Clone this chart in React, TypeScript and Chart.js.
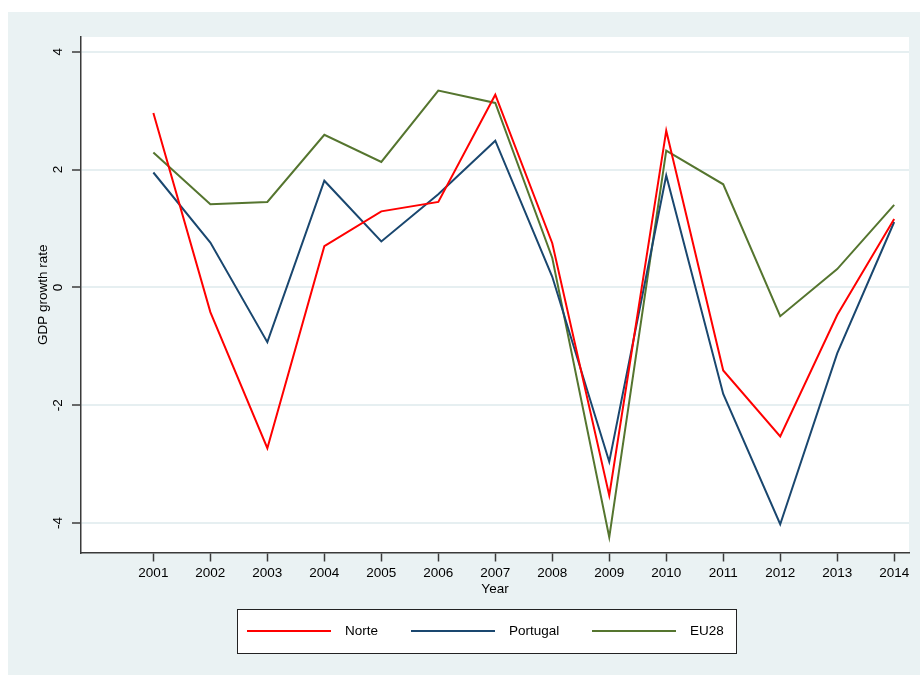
import React, { useEffect, useRef } from "react";
import { Chart, registerables } from "chart.js";
Chart.register(...registerables);

const years = [2001, 2002, 2003, 2004, 2005, 2006, 2007, 2008, 2009, 2010, 2011, 2012, 2013, 2014];
const norte = [2.96, -0.42, -2.73, 0.7, 1.29, 1.45, 3.27, 0.75, -3.53, 2.66, -1.41, -2.53, -0.47, 1.16];
const portugal = [1.95, 0.76, -0.93, 1.81, 0.78, 1.58, 2.49, 0.18, -2.96, 1.9, -1.81, -4.02, -1.12, 1.11];
const eu28 = [2.29, 1.41, 1.45, 2.59, 2.13, 3.34, 3.13, 0.5, -4.24, 2.32, 1.75, -0.49, 0.31, 1.4];
const yTicks = [-4, -2, 0, 2, 4];
const seriesNames = ["Norte", "Portugal", "EU28"];
const seriesColors = ["#FF0000", "#1A476F", "#55752F"];
const yTitle = "GDP growth rate";
const xTitle = "Year";

const FONT = "'Liberation Sans', Arial, sans-serif";
const FS = 13.5;
const BG = "#EAF2F3";
const GRID = "#E6EFF1";
const AXIS = "#3a3a3a";

export default function App() {
  const ref = useRef<HTMLCanvasElement | null>(null);

  useEffect(() => {
    const canvas = ref.current;
    if (!canvas) return;
    const seriesData = [norte, portugal, eu28];

    const decor = {
      id: "decor",
      beforeDraw(chart: any) {
        const ctx = chart.ctx;
        const a = chart.chartArea;
        ctx.save();
        ctx.fillStyle = "#FFFFFF";
        ctx.fillRect(0, 0, chart.width, chart.height);
        ctx.fillStyle = BG;
        ctx.fillRect(8, 12, chart.width - 8, chart.height - 12);
        ctx.fillStyle = "#FFFFFF";
        ctx.fillRect(a.left, a.top, a.right - a.left, a.bottom - a.top);
        ctx.restore();
      },
      afterDraw(chart: any) {
        const ctx = chart.ctx;
        const a = chart.chartArea;
        const ys = chart.scales.y;
        ctx.save();
        ctx.fillStyle = "#000";
        ctx.font = `${FS}px ${FONT}`;
        ctx.textAlign = "center";
        ctx.textBaseline = "middle";
        // rotated y tick labels
        for (const v of yTicks) {
          const py = ys.getPixelForValue(v);
          ctx.save();
          ctx.translate(58.5, py);
          ctx.rotate(-Math.PI / 2);
          ctx.fillText(String(v), 0, 0);
          ctx.restore();
        }
        // y title
        ctx.save();
        ctx.translate(43, (a.top + a.bottom) / 2);
        ctx.rotate(-Math.PI / 2);
        ctx.fillText(yTitle, 0, 0);
        ctx.restore();
        // x title
        ctx.fillText(xTitle, (a.left + a.right) / 2, 589);

        // legend
        const bx = 237, by = 609, bw = 499, bh = 44;
        ctx.fillStyle = "#FFFFFF";
        ctx.fillRect(bx, by, bw, bh);
        ctx.strokeStyle = "#222";
        ctx.lineWidth = 1;
        ctx.strokeRect(bx + 0.5, by + 0.5, bw, bh);
        const lineStarts = [247, 411, 592];
        const cy = 631;
        ctx.textAlign = "left";
        for (let i = 0; i < seriesNames.length; i++) {
          ctx.strokeStyle = seriesColors[i];
          ctx.lineWidth = 2;
          ctx.beginPath();
          ctx.moveTo(lineStarts[i], cy);
          ctx.lineTo(lineStarts[i] + 84, cy);
          ctx.stroke();
          ctx.fillStyle = "#000";
          ctx.fillText(seriesNames[i], lineStarts[i] + 98, cy);
        }
        ctx.restore();
      },
    };

    const chart = new Chart(canvas, {
      type: "line",
      data: {
        datasets: seriesNames.map((name, i) => ({
          label: name,
          data: years.map((yr, j) => ({ x: yr, y: seriesData[i][j] })),
          borderColor: seriesColors[i],
          backgroundColor: seriesColors[i],
          borderWidth: 2,
          pointRadius: 0,
          tension: 0,
          fill: false,
        })),
      },
      options: {
        responsive: false,
        animation: false,
        devicePixelRatio: 1,
        layout: { padding: { left: 0, top: 37, right: 11, bottom: 0 } },
        plugins: {
          legend: { display: false },
          tooltip: { enabled: false },
        },
        scales: {
          x: {
            type: "linear",
            min: 1999.73,
            max: 2014.26,
            afterBuildTicks: (s: any) => {
              s.ticks = years.map((v) => ({ value: v }));
            },
            afterFit: (s: any) => {
              s.height = 122.5;
            },
            ticks: {
              autoSkip: false,
              maxRotation: 0,
              minRotation: 0,
              color: "#000",
              font: { size: FS, family: FONT },
              padding: 4,
              callback: (v: any) => String(v),
            },
            grid: {
              drawOnChartArea: false,
              drawTicks: true,
              tickLength: 9,
              tickColor: AXIS,
              tickWidth: 1.5,
              color: AXIS,
            },
            border: { display: true, color: AXIS, width: 1.5 },
          },
          y: {
            type: "linear",
            min: -4.5,
            max: 4.25,
            afterBuildTicks: (s: any) => {
              s.ticks = yTicks.map((v) => ({ value: v }));
            },
            afterFit: (s: any) => {
              s.width = 81;
            },
            ticks: { display: false },
            grid: {
              drawOnChartArea: true,
              drawTicks: true,
              tickLength: 9,
              color: GRID,
              lineWidth: 2,
              tickColor: AXIS,
              tickWidth: 1.5,
            },
            border: { display: true, color: AXIS, width: 1.5 },
          },
        },
      },
      plugins: [decor],
    } as any);

    return () => chart.destroy();
  }, []);

  return (
    <div style={{ position: "absolute", left: 0, top: 0, width: 920, height: 675 }}>
      <canvas ref={ref} width={920} height={675} style={{ display: "block" }} />
    </div>
  );
}
